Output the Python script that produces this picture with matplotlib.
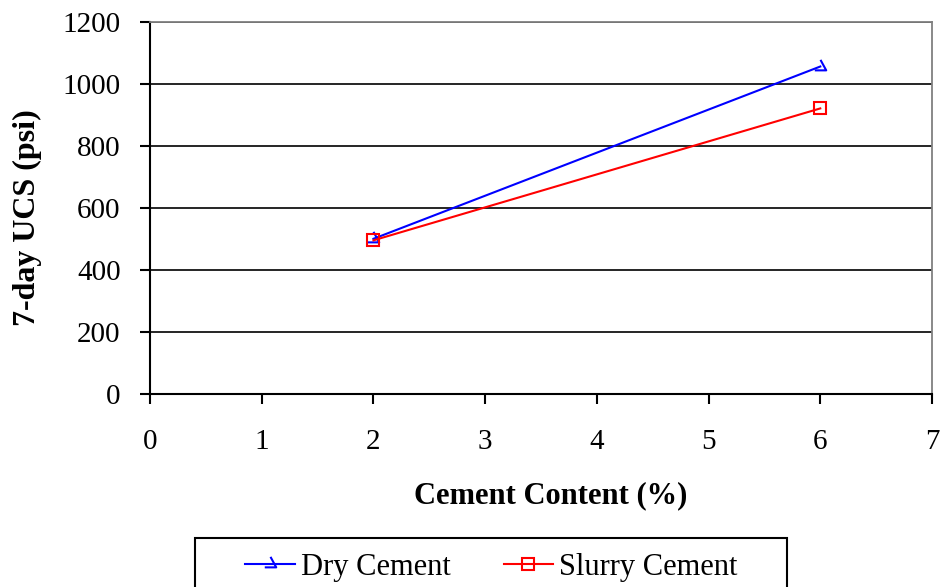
import numpy as np
import matplotlib.pyplot as plt
from matplotlib.path import Path
from matplotlib.patches import Rectangle

# 7-day UCS vs cement content
cement = [2, 6]
dry_ucs = [500, 1055]
slurry_ucs = [495, 920]

xticks = [0, 1, 2, 3, 4, 5, 6, 7]
yticks = [0, 200, 400, 600, 800, 1000, 1200]

plt.rcParams['font.family'] = ['Liberation Serif', 'DejaVu Serif']

W, H = 942, 587

# open "half triangle" marker
tri = Path([(0, 8), (6, -3), (-6, -3)], [Path.MOVETO, Path.LINETO, Path.LINETO])

fig = plt.figure(figsize=(W/100, H/100), dpi=100)
ax = fig.add_axes([150/W, 1-394/H, 782/W, 372.5/H])

ax.plot(cement, dry_ucs, color='blue', lw=1.5, marker=tri, markersize=11,
        markerfacecolor='none', markeredgecolor='blue', markeredgewidth=1.5,
        label='Dry Cement')
ax.plot(cement, slurry_ucs, color='red', lw=1.5, marker='s', markersize=9,
        markerfacecolor='none', markeredgecolor='red', markeredgewidth=1.5,
        label='Slurry Cement')

ax.set_xlim(0, 7)
ax.set_ylim(0, 1200)
ax.set_xticks(xticks)
ax.set_yticks(yticks)
ax.yaxis.grid(True, color='black', lw=1.2)
ax.set_axisbelow(True)

for s in ['top', 'right']:
    ax.spines[s].set_color('#808080')
    ax.spines[s].set_linewidth(1.3)
for s in ['left', 'bottom']:
    ax.spines[s].set_color('black')
    ax.spines[s].set_linewidth(1.5)

ax.tick_params(axis='both', direction='out', length=7.2, width=1.5, labelsize=21)
ax.tick_params(axis='y', pad=14)
ax.tick_params(axis='x', pad=18)

# axis titles
fig.text(551/W, 1-503/H, 'Cement Content (%)', fontsize=22, fontweight='bold',
         ha='center', va='baseline')
fig.text(27/W, 1-218/H, '7-day UCS (psi)', fontsize=23, fontweight='bold',
         rotation=90, ha='center', va='center')

# legend, boxed below the plot
handles, labels = ax.get_legend_handles_labels()
fig.legend(handles, labels, loc='center left', bbox_to_anchor=(245/W, 1-567/H),
           ncol=2, fontsize=22, frameon=False, handlelength=1.63,
           handletextpad=0.2, columnspacing=1.73, borderpad=0, borderaxespad=0)
fig.patches.append(Rectangle((194.5/W, 1-600/H), 592.5/W, 62/H,
                             transform=fig.transFigure, fill=False,
                             edgecolor='black', lw=1.5))

fig.savefig('out.png', dpi=100)
